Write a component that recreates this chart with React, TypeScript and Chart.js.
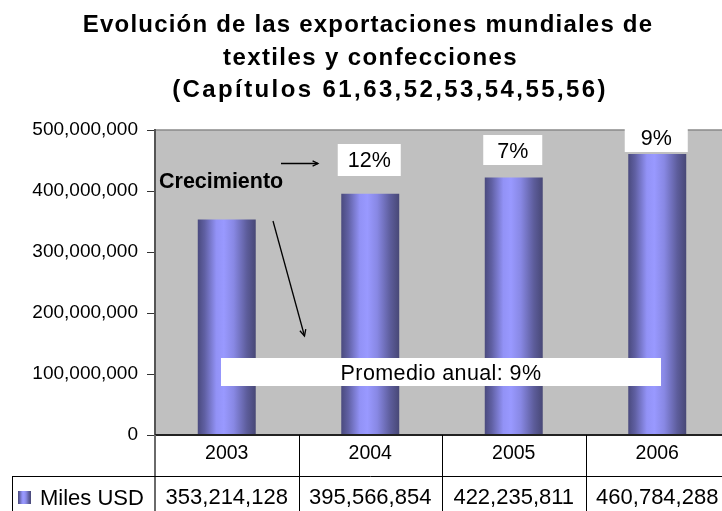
import React, { useEffect, useRef } from "react";
import { Chart, registerables } from "chart.js";

Chart.register(...registerables);

// ---- data ----
const years = ["2003", "2004", "2005", "2006"];
const exportsUSD = [353214128, 395566854, 422235811, 460784288];
const growthLabels = ["12%", "7%", "9%"];
const seriesName = "Miles USD";
const titleLines = [
  "Evolución de las exportaciones mundiales de",
  "textiles y confecciones",
  "(Capítulos 61,63,52,53,54,55,56)",
];
const growthCaption = "Crecimiento";
const averageCaption = "Promedio anual: 9%";
const yMin = 0;
const yMax = 500000000;
const yStep = 100000000;

// ---- style / layout constants ----
const FONT = '"Liberation Sans", Arial, Helvetica, sans-serif';
const BAR_PCT = 0.404;
const CANVAS_W = 745;
const CANVAS_H = 511;

function barGradient(ctx: CanvasRenderingContext2D, x0: number, x1: number) {
  const g = ctx.createLinearGradient(x0, 0, x1, 0);
  g.addColorStop(0, "#4a4a7e");
  g.addColorStop(0.12, "#6060a3");
  g.addColorStop(0.32, "#9292f6");
  g.addColorStop(0.45, "#9999ff");
  g.addColorStop(0.62, "#8888e4");
  g.addColorStop(0.85, "#5c5c9a");
  g.addColorStop(1, "#484876");
  return g;
}

function arrow(ctx: CanvasRenderingContext2D, x0: number, y0: number, x1: number, y1: number, head: number) {
  ctx.beginPath();
  ctx.moveTo(x0, y0);
  ctx.lineTo(x1, y1);
  ctx.stroke();
  const a = Math.atan2(y1 - y0, x1 - x0);
  ctx.beginPath();
  ctx.moveTo(x1 - head * Math.cos(a - 0.45), y1 - head * Math.sin(a - 0.45));
  ctx.lineTo(x1, y1);
  ctx.lineTo(x1 - head * Math.cos(a + 0.45), y1 - head * Math.sin(a + 0.45));
  ctx.stroke();
}

const decor = {
  id: "decor",
  beforeDraw(chart: any) {
    const { ctx, chartArea } = chart;
    ctx.save();
    ctx.fillStyle = "#ffffff";
    ctx.fillRect(0, 0, chart.width, chart.height);
    ctx.fillStyle = "#c0c0c0";
    ctx.fillRect(chartArea.left, chartArea.top, chartArea.right - chartArea.left, chartArea.bottom - chartArea.top);
    ctx.strokeStyle = "#8a8a8a";
    ctx.lineWidth = 1.5;
    ctx.beginPath();
    ctx.moveTo(chartArea.left, chartArea.top);
    ctx.lineTo(chartArea.right, chartArea.top);
    ctx.stroke();
    ctx.restore();
  },
  afterDraw(chart: any) {
    const { ctx, chartArea } = chart;
    const xs = chart.scales.x;
    const meta = chart.getDatasetMeta(0);
    const bottom = chartArea.bottom;
    const catW = (chartArea.right - chartArea.left) / years.length;
    ctx.save();

    // x axis line
    ctx.strokeStyle = "#222";
    ctx.lineWidth = 2;
    ctx.beginPath();
    ctx.moveTo(chartArea.left, bottom);
    ctx.lineTo(chartArea.right, bottom);
    ctx.stroke();

    // ---- data table ----
    const rowSplit = 476;
    ctx.strokeStyle = "#6a6a6a";
    ctx.lineWidth = 2;
    ctx.beginPath();
    ctx.moveTo(chartArea.left, bottom);
    ctx.lineTo(chartArea.left, CANVAS_H);
    ctx.stroke();
    ctx.strokeStyle = "#000";
    ctx.lineWidth = 1;
    ctx.beginPath();
    for (let i = 1; i <= years.length; i++) {
      const x = Math.round(chartArea.left + catW * i) + 0.5;
      ctx.moveTo(x, bottom);
      ctx.lineTo(x, CANVAS_H);
    }
    ctx.moveTo(12, rowSplit + 0.5);
    ctx.lineTo(chartArea.right, rowSplit + 0.5);
    ctx.moveTo(12.5, rowSplit);
    ctx.lineTo(12.5, CANVAS_H);
    ctx.stroke();

    ctx.fillStyle = "#000";
    ctx.textAlign = "center";
    ctx.textBaseline = "alphabetic";
    years.forEach((y, i) => {
      const cx = xs.getPixelForValue(i);
      ctx.font = `19.5px ${FONT}`;
      ctx.fillText(y, cx, 459);
      ctx.font = `22px ${FONT}`;
      ctx.fillText(exportsUSD[i].toLocaleString("en-US"), cx, 504);
    });
    // legend key
    ctx.fillStyle = barGradient(ctx, 18, 31);
    ctx.fillRect(18, 491, 13, 13);
    ctx.fillStyle = "#000";
    ctx.textAlign = "left";
    ctx.font = `22px ${FONT}`;
    ctx.fillText(seriesName, 40, 504.5);

    // ---- title ----
    const centers = [368, 370.5, 390];
    const baselines = [32, 64.5, 97];
    const spacing = [1.2, 1.4, 2.4];
    ctx.font = `bold 24px ${FONT}`;
    titleLines.forEach((t, i) => {
      (ctx as any).letterSpacing = `${spacing[i]}px`;
      const w = ctx.measureText(t).width;
      ctx.fillText(t, centers[i] - w / 2, baselines[i]);
    });
    (ctx as any).letterSpacing = "0px";

    // ---- annotations ----
    ctx.font = `bold 21.5px ${FONT}`;
    ctx.fillText(growthCaption, 159, 188);

    ctx.strokeStyle = "#000";
    ctx.lineWidth = 1.3;
    arrow(ctx, 281, 163.5, 318, 163.5, 6);
    arrow(ctx, 273, 221, 304.5, 336, 7);

    const boxW = [63, 59, 63];
    const boxTop = [144, 135, 122];
    const boxBot = [176, 165, 152];
    const textBase = [166.7, 158.3, 145];
    ctx.font = `21.5px ${FONT}`;
    ctx.textAlign = "center";
    growthLabels.forEach((g, i) => {
      const el = meta.data[i + 1];
      const cx = el.x - 1;
      ctx.fillStyle = "#fff";
      ctx.fillRect(cx - boxW[i] / 2, boxTop[i], boxW[i], boxBot[i] - boxTop[i]);
      ctx.fillStyle = "#000";
      ctx.fillText(g, cx, textBase[i]);
    });

    ctx.fillStyle = "#fff";
    ctx.fillRect(221, 358, 440, 28);
    ctx.fillStyle = "#000";
    ctx.font = `21.5px ${FONT}`;
    (ctx as any).letterSpacing = "0.4px";
    ctx.fillText(averageCaption, 441, 380);
    (ctx as any).letterSpacing = "0px";

    ctx.restore();
  },
};

export default function App() {
  const ref = useRef<HTMLCanvasElement>(null);
  useEffect(() => {
    const canvas = ref.current!;
    const chart = new Chart(canvas, {
      type: "bar",
      data: {
        labels: years,
        datasets: [
          {
            label: seriesName,
            data: exportsUSD,
            borderWidth: 0,
            barPercentage: BAR_PCT,
            categoryPercentage: 1,
            backgroundColor: (c: any) => {
              const ch = c.chart;
              const xs = ch.scales && ch.scales.x;
              if (!xs || !ch.chartArea || c.dataIndex === undefined) return "#9999ff";
              const cx = xs.getPixelForValue(c.dataIndex);
              const w = (xs.width / years.length) * BAR_PCT;
              return barGradient(ch.ctx, cx - w / 2, cx + w / 2);
            },
          },
        ],
      },
      options: {
        responsive: false,
        animation: false,
        devicePixelRatio: 1,
        layout: { padding: { top: 130, bottom: 76, left: 0, right: 16 } },
        plugins: {
          legend: { display: false },
          title: { display: false },
          tooltip: { enabled: false },
        },
        scales: {
          x: { display: false },
          y: {
            min: yMin,
            max: yMax,
            afterFit: (s: any) => {
              s.width = 155;
            },
            ticks: {
              stepSize: yStep,
              padding: 9,
              color: "#000",
              font: { family: FONT, size: 19 },
              callback: (v: any) => Number(v).toLocaleString("en-US"),
            },
            grid: { drawOnChartArea: false, tickLength: 8, color: "#333", lineWidth: 1 },
            border: { color: "#555", width: 2 },
          },
        },
      },
      plugins: [decor],
    } as any);
    return () => chart.destroy();
  }, []);
  return (
    <div
      style={{
        position: "absolute",
        left: 0,
        top: 0,
        width: 722,
        height: 511,
        overflow: "hidden",
        background: "#fff",
      }}
    >
      <canvas ref={ref} width={CANVAS_W} height={CANVAS_H} style={{ display: "block" }} />
    </div>
  );
}
